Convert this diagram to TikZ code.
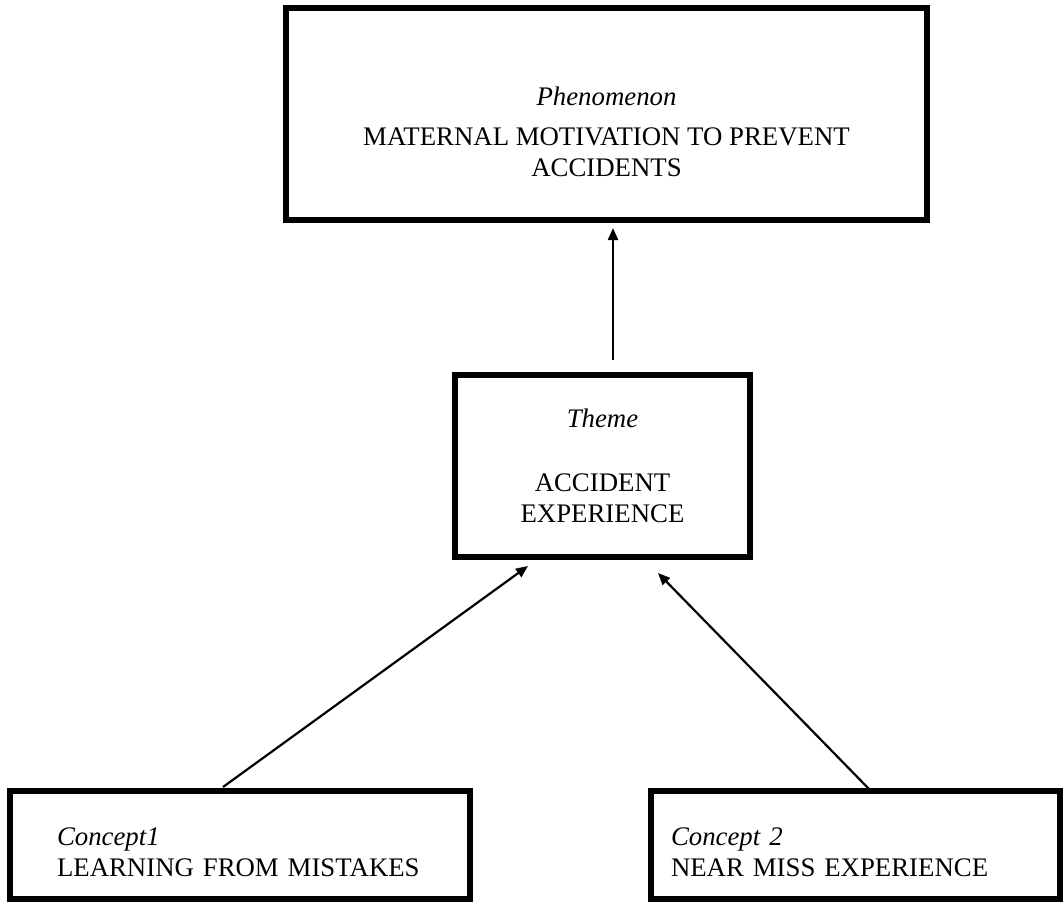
\documentclass[tikz,border=0pt]{standalone}
\usepackage{fontspec}
\setmainfont{Liberation Serif}
\usetikzlibrary{positioning,arrows.meta}

\begin{document}
\begin{tikzpicture}[%
        box/.style={draw, line width=2.6pt, outer sep=0pt, inner ysep=0pt,
          font=\fontsize{13.4pt}{15.5pt}\selectfont},
        conn/.style={-{Triangle[length=6pt,width=5pt]}, line width=1.1pt}
        ]
        \useasboundingbox (0,0) rectangle (532pt,-452pt);
        \node[box, align=center, minimum width=320.5pt, anchor=north west] (phen) at (143pt,-4pt)
          {\rule{0pt}{48.5pt}\textit{Phenomenon}\\[4.5pt]MATERNAL MOTIVATION TO PREVENT\\ACCIDENTS\rule[-22pt]{0pt}{22pt}};
        \node[box, align=center, minimum width=147.5pt, below=77.5pt of phen, xshift=-2pt] (theme)
          {\rule{0pt}{26pt}\textit{Theme}\\[16.5pt]ACCIDENT\\EXPERIENCE\rule[-17.5pt]{0pt}{17.5pt}};
        \node[box, align=left, text width=183pt, inner xsep=23.5pt, below=117pt of theme, xshift=-181.25pt] (c1)
          {\rule{0pt}{27pt}\textit{Concept1}\\LEARNING FROM MISTAKES\rule[-11.5pt]{0pt}{11.5pt}};
        \node[box, align=left, text width=184.5pt, inner xsep=10pt, below=117pt of theme, xshift=126.5pt] (c2)
          {\rule{0pt}{27pt}\textit{Concept 2}\\NEAR MISS EXPERIENCE\rule[-11.5pt]{0pt}{11.5pt}};
        \draw[conn] ([xshift=5.25pt,yshift=7.5pt]theme.north) -- ([xshift=3.25pt,yshift=-4pt]phen.south);
        \draw[conn] ([xshift=-8.5pt,yshift=2pt]c1.north) -- ([xshift=-37.25pt,yshift=-4.5pt]theme.south);
        \draw[conn] ([xshift=7.25pt,yshift=0.5pt]c2.north) -- ([xshift=27.75pt,yshift=-8pt]theme.south);
\end{tikzpicture}
\end{document}
